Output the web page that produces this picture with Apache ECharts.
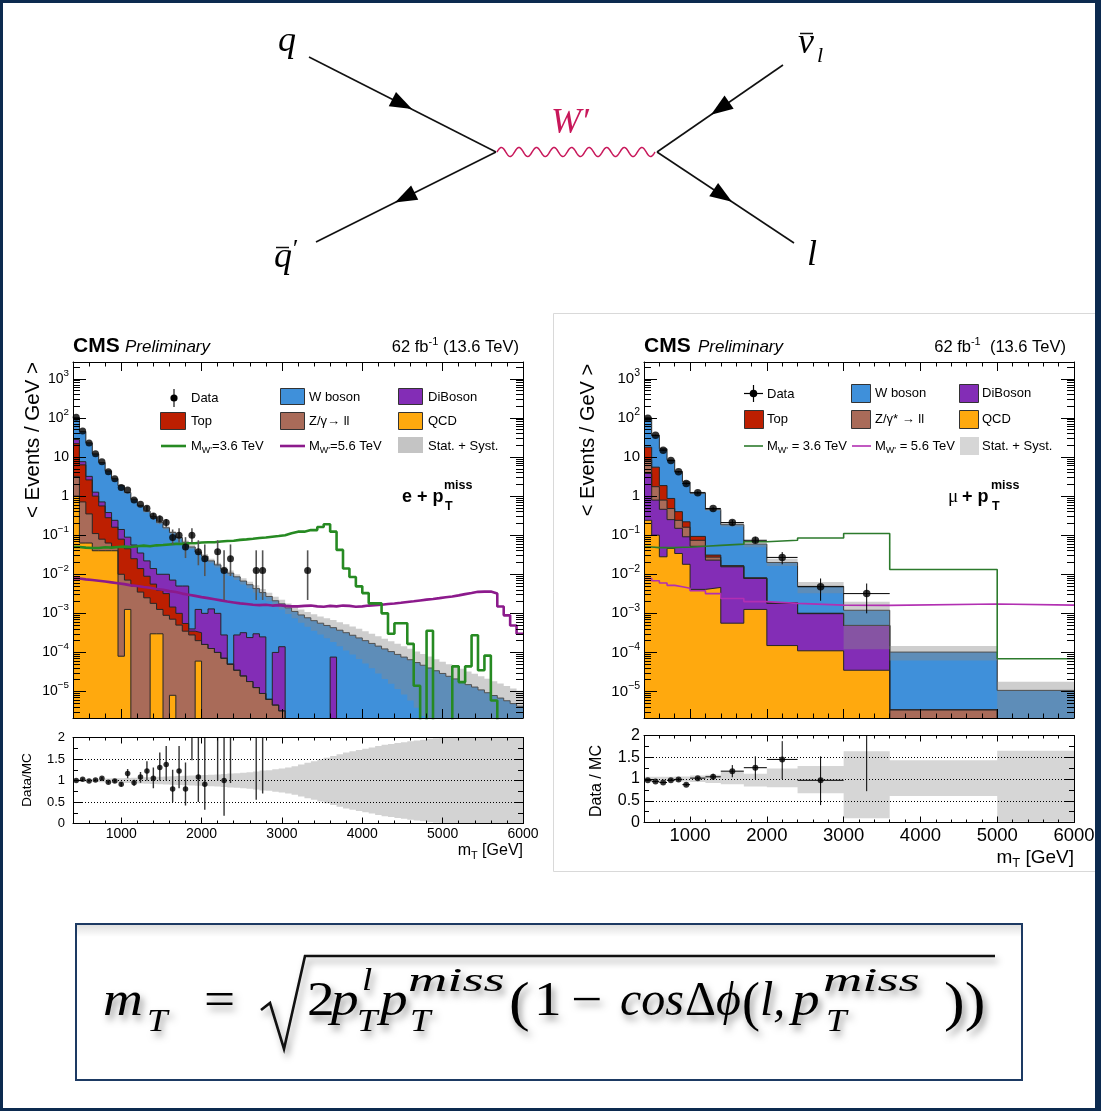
<!DOCTYPE html>
<html>
<head>
<meta charset="utf-8">
<title>W' search: transverse mass spectra</title>
<script src="https://cdn.jsdelivr.net/npm/echarts@6.0.0/dist/echarts.min.js"></script>
<style>
html, body { margin: 0; padding: 0; background: #ffffff; }
#chart { width: 1101px; height: 1111px; }
</style>
</head>
<body>
<div id="chart"></div>
<script>
// ---------- fonts & colours ----------
const SANS = '"Liberation Sans", Arial, Helvetica, sans-serif';
const SERIF = '"Liberation Serif", "DejaVu Serif", "Times New Roman", serif';
const NAVY = '#0c2a4f';
const COL_W = '#3f90da', COL_QCD = '#ffa90e', COL_TOP = '#bd1f01', COL_DIB = '#832db6', COL_Z = '#a96b59';

// ---------- axis ranges ----------
const X_MIN = 400, X_MAX = 6000;
const Y_MIN = 2.1e-6, Y_MAX = 2.7e3;
const EMPTY = 1e-12;   // empty bins sit far below the log range and are clipped away

const xMajor = [1000, 2000, 3000, 4000, 5000, 6000];
const xMinor = [];
for (let v = 600; v < 6000; v += 200) if (v % 1000 !== 0) xMinor.push(v);
const yDecades = [1e-5, 1e-4, 1e-3, 1e-2, 1e-1, 1, 10, 100, 1000];
const yMinor = [];
for (let e = -6; e <= 3; e++) for (let k = 2; k <= 9; k++) { const v = k * Math.pow(10, e); if (v > Y_MIN && v < Y_MAX) yMinor.push(v); }
const rMajor = [0, 0.5, 1, 1.5, 2];
const rMinor = [0.25, 0.75, 1.25, 1.75];

// ================= electron channel: 80 GeV bins from 400 GeV =================
const eBinLow = 400, eBinWidth = 80;
// cumulative stack tops (events / GeV), bottom to top: QCD, Z/gamma, Top, DiBoson, W boson
const eStackW = [102, 45, 23, 12, 7.2, 4.4, 2.8, 1.85, 1.23, 0.83,
  0.57, 0.41, 0.30, 0.21, 0.155, 0.117, 0.087, 0.066, 0.050, 0.037,
  0.029, 0.022, 0.0174, 0.0135, 0.0107, 8.6e-3, 6.7e-3, 5.4e-3, 4.3e-3, 3.4e-3,
  2.7e-3, 2.1e-3, 1.75e-3, 1.38e-3, 1.12e-3, 9.1e-4, 7.7e-4, 6.5e-4, 5.6e-4, 4.9e-4,
  4.3e-4, 3.7e-4, 3.2e-4, 2.75e-4, 2.35e-4, 2.0e-4, 1.7e-4, 1.45e-4, 1.23e-4, 1.05e-4,
  8.9e-5, 7.6e-5, 6.5e-5, 5.5e-5, 4.7e-5, 4.0e-5, 3.4e-5, 2.9e-5, 2.45e-5, 2.1e-5,
  1.8e-5, 1.5e-5, 1.3e-5, 1.1e-5, 9.3e-6, 7.9e-6, 6.8e-6, 5.8e-6, 4.9e-6, 4.2e-6];
const eStackDiBoson = [28, 7.6, 3.2, 1.26, 0.71, 0.38, 0.24, 0.14, 0.089, 0.056,
  0.035, 0.022, 0.014, 0.010, 0.010, 7.1e-3, 5.0e-3, 5.0e-3, 4.0e-4, 1.26e-3,
  1.0e-3, 1.3e-3, 1.0e-3, 2.8e-4, 5.0e-5, 2.8e-4, 3.2e-4, 2.4e-4, 3.0e-4, 2.5e-4,
  6.3e-6, 1.0e-4, 1.4e-4, 0, 0, 0, 0, 0, 0, 0,
  7.6e-5, 0, 0, 0, 0, 0, 0, 0, 0, 0,
  0, 0, 0, 0, 0, 0, 0, 0, 0, 0,
  0, 0, 0, 0, 0, 0, 0, 0, 0, 0];
const eStackTop = [22, 6.3, 2.6, 1.0, 0.56, 0.28, 0.16, 0.079, 0.045, 0.025,
  0.014, 8.9e-3, 5.6e-3, 3.9e-3, 3.2e-3, 1.45e-3, 1.0e-3, 5.5e-4, 3.5e-4, 3.2e-4,
  1.6e-4, 1.26e-4, 1.0e-4, 7.1e-5, 5.0e-5, 3.5e-5, 2.5e-5, 1.8e-5, 1.26e-5, 8.9e-6,
  6.3e-6, 4.5e-6, 3.2e-6, 0, 0, 0, 0, 0, 0, 0,
  0, 0, 0, 0, 0, 0, 0, 0, 0, 0,
  0, 0, 0, 0, 0, 0, 0, 0, 0, 0,
  0, 0, 0, 0, 0, 0, 0, 0, 0, 0];
const eStackZ = [3.2, 0.71, 0.35, 0.11, 0.079, 0.063, 0.050, 0.010, 7.1e-3, 5.0e-3,
  3.5e-3, 2.5e-3, 1.8e-3, 1.26e-3, 8.9e-4, 7.1e-4, 5.0e-4, 3.5e-4, 2.8e-4, 2.0e-4,
  1.6e-4, 1.26e-4, 1.0e-4, 7.1e-5, 5.0e-5, 3.5e-5, 2.5e-5, 1.8e-5, 1.26e-5, 8.9e-6,
  6.3e-6, 4.5e-6, 3.2e-6, 0, 0, 0, 0, 0, 0, 0,
  0, 0, 0, 0, 0, 0, 0, 0, 0, 0,
  0, 0, 0, 0, 0, 0, 0, 0, 0, 0,
  0, 0, 0, 0, 0, 0, 0, 0, 0, 0];
const eStackQCD = [1.0, 0.063, 0.063, 0.04, 0.04, 0.04, 0.04, 8e-5, 1.26e-3, 0,
  0, 0, 3e-4, 3e-4, 0, 8e-6, 0, 0, 0, 6e-5,
  0, 0, 0, 0, 0, 0, 0, 0, 0, 0,
  0, 0, 0, 0, 0, 0, 0, 0, 0, 0,
  0, 0, 0, 0, 0, 0, 0, 0, 0, 0,
  0, 0, 0, 0, 0, 0, 0, 0, 0, 0,
  0, 0, 0, 0, 0, 0, 0, 0, 0, 0];
// relative stat. + syst. uncertainty of the background
const eBandErr = [0.03, 0.03, 0.03, 0.035, 0.04, 0.045, 0.05, 0.055, 0.06, 0.065,
  0.07, 0.075, 0.08, 0.09, 0.095, 0.10, 0.105, 0.11, 0.115, 0.12,
  0.13, 0.135, 0.14, 0.15, 0.16, 0.17, 0.18, 0.19, 0.21, 0.23,
  0.24, 0.26, 0.28, 0.30, 0.33, 0.37, 0.41, 0.45, 0.49, 0.53,
  0.57, 0.61, 0.65, 0.68, 0.71, 0.74, 0.77, 0.80, 0.83, 0.85,
  0.87, 0.89, 0.91, 0.93, 0.95, 0.97, 0.98, 1.0, 1.04, 1.08,
  1.12, 1.16, 1.2, 1.24, 1.28, 1.32, 1.36, 1.4, 1.44, 1.48];
// signal hypotheses
const eSig36 = [0.050, 0.048, 0.047, 0.047, 0.049, 0.048, 0.050, 0.051, 0.050, 0.052,
  0.054, 0.052, 0.055, 0.056, 0.058, 0.060, 0.060, 0.062, 0.062, 0.065,
  0.066, 0.066, 0.069, 0.071, 0.072, 0.076, 0.078, 0.081, 0.085, 0.087,
  0.091, 0.095, 0.100, 0.112, 0.123, 0.123, 0.135, 0.135, 0.162, 0.190,
  0.123, 0.042, 0.014, 8.5e-3, 4.9e-3, 3.3e-3, 1.8e-3, 1.8e-3, 1.0e-3, 3.0e-4,
  5.6e-4, 5.6e-4, 1.66e-4, 1.4e-5, 0, 3.6e-4, 0, 0, 0, 4.4e-5,
  1.74e-5, 4.4e-5, 2.75e-4, 3.5e-5, 8.3e-5, 5.9e-6, 0, 0, 0, 0];
const eSig56 = [7.8e-3, 7.4e-3, 7.1e-3, 6.8e-3, 6.5e-3, 6.2e-3, 5.9e-3, 5.6e-3, 5.2e-3, 5.0e-3,
  4.7e-3, 4.5e-3, 4.2e-3, 4.0e-3, 3.7e-3, 3.5e-3, 3.2e-3, 3.0e-3, 2.8e-3, 2.6e-3,
  2.45e-3, 2.3e-3, 2.15e-3, 2.0e-3, 1.9e-3, 1.8e-3, 1.74e-3, 1.66e-3, 1.62e-3, 1.66e-3,
  1.58e-3, 1.62e-3, 1.55e-3, 1.51e-3, 1.51e-3, 1.55e-3, 1.58e-3, 1.51e-3, 1.48e-3, 1.55e-3,
  1.51e-3, 1.58e-3, 1.55e-3, 1.48e-3, 1.51e-3, 1.58e-3, 1.62e-3, 1.66e-3, 1.74e-3, 1.78e-3,
  1.86e-3, 1.95e-3, 2.04e-3, 2.14e-3, 2.24e-3, 2.34e-3, 2.45e-3, 2.57e-3, 2.69e-3, 2.88e-3,
  3.1e-3, 3.3e-3, 3.55e-3, 3.6e-3, 3.6e-3, 3.2e-3, 1.5e-3, 8.9e-4, 4.9e-4, 3.0e-4];
// observed data (events / GeV) with vertical uncertainty
const eData = [104, 46, 23, 12.2, 7.6, 4.2, 2.8, 1.67, 1.43, 0.79, 0.62, 0.49, 0.31, 0.26, 0.21,
  0.0875, 0.1, 0.05, 0.1, 0.0375, 0.025, null, 0.0375, 0.0125, 0.025, null, null, null, 0.0125, 0.0125,
  null, null, null, null, null, null, 0.0125];
const eDataLo = [null, null, null, null, null, null, null, null, null, null, null, 0.41, 0.25, 0.20, 0.16,
  0.057, 0.065, 0.026, 0.065, 0.017, 0.009, null, 0.017, 0.0022, 0.009, null, null, null, 0.0022, 0.0022,
  null, null, null, null, null, null, 0.0022];
const eDataHi = [null, null, null, null, null, null, null, null, null, null, null, 0.57, 0.37, 0.32, 0.26,
  0.14, 0.15, 0.089, 0.15, 0.074, 0.058, null, 0.074, 0.041, 0.058, null, null, null, 0.041, 0.041,
  null, null, null, null, null, null, 0.041];
// data / MC
const eRatio = [1.0, 1.03, 0.99, 1.01, 1.05, 0.96, 0.99, 0.91, 1.16, 0.95, 1.08, 1.22, 1.05, 1.30, 1.37,
  0.80, 1.22, 0.80, 2.3, 1.08, 0.91, null, 2.2, 1.0, 2.3, null, null, null, 2.9, 3.7];
const eRatioLo = [0.98, 1.01, 0.97, 0.98, 1.02, 0.93, 0.95, 0.86, 1.05, 0.88, 0.95, 1.0, 0.82, 1.0, 1.0,
  0.5, 0.82, 0.42, 1.47, 0.5, 0.32, null, 1.0, 0.18, 0.94, null, null, null, 0.55, 0.7];
const eRatioHi = [1.02, 1.05, 1.01, 1.04, 1.08, 0.99, 1.03, 0.96, 1.27, 1.02, 1.20, 1.45, 1.30, 1.65, 1.80,
  1.25, 1.80, 1.42, 3.3, 2.1, 2.0, null, 4.0, 2.2, 5.0, null, null, null, 9.0, 12.0];

// ================= muon channel: variable bins =================
const mEdges = [400, 500, 600, 700, 800, 900, 1000, 1200, 1400, 1700, 2000, 2400, 3000, 3600, 5000, 6000];
// cumulative stack tops, bottom to top: QCD, DiBoson, Z/gamma*, Top, W boson
const mStackW = [100, 35.5, 16.2, 8.3, 4.2, 2.3, 1.2, 0.457, 0.186, 0.059, 0.020, 4.9e-3, 1.2e-3, 1.02e-4, 1.07e-5];
const mStackTop = [17.8, 5.5, 1.86, 0.87, 0.40, 0.22, 0.093, 0.031, 0.0166, 8.1e-3, 1.86e-3, 1.0e-3, 4.9e-4, 3.4e-6, 0];
const mStackZ = [8.3, 1.74, 0.79, 0.48, 0.24, 0.16, 0.074, 0.0275, 0.0162, 7.9e-3, 1.82e-3, 1.0e-3, 4.9e-4, 3.4e-6, 0];
const mStackDiBoson = [3.8, 0.79, 0.46, 0.25, 0.15, 0.091, 0.052, 0.023, 0.0155, 7.8e-3, 1.8e-3, 9.8e-4, 4.9e-4, 0, 0];
const mStackQCD = [0.24, 0.10, 0.028, 0.046, 0.034, 0.018, 4.1e-3, 4.6e-3, 5.6e-4, 1.26e-3, 1.5e-4, 1.1e-4, 3.5e-5, 0, 0];
const mBandUp = [1.05, 1.05, 1.05, 1.05, 1.06, 1.06, 1.08, 1.10, 1.17, 1.12, 1.24, 1.30, 1.64, 1.43, 1.65];
const mBandLo = [0.95, 0.95, 0.95, 0.95, 0.94, 0.94, 0.93, 0.91, 0.88, 0.83, 0.81, 0.67, 0.10, 0.61, 0.02];
const mSig36 = [0.050, 0.048, 0.048, 0.048, 0.049, 0.049, 0.052, 0.055, 0.059, 0.068, 0.074, 0.085, 0.11, 0.0132, 6.9e-5];
const mSig56 = [7.8e-3, 6.8e-3, 6.0e-3, 5.2e-3, 4.8e-3, 4.4e-3, 3.8e-3, 3.2e-3, 2.4e-3, 2.0e-3, 1.8e-3, 1.62e-3, 1.6e-3, 1.74e-3, 1.62e-3];
const mData = [98, 36, 15, 8.1, 4.2, 2.1, 1.22, 0.48, 0.21, 0.074, 0.027, 4.8e-3, 3.2e-3];
const mDataLo = [95, 35, 14.5, 7.8, 4.0, 1.95, 1.12, 0.43, 0.18, 0.062, 0.018, 2.1e-3, 1.0e-3];
const mDataHi = [101, 37, 15.5, 8.4, 4.4, 2.25, 1.32, 0.53, 0.245, 0.091, 0.037, 7.8e-3, 5.8e-3];
const mRatio = [0.97, 0.94, 0.92, 0.97, 0.99, 0.87, 1.02, 1.05, 1.18, 1.26, 1.45, 0.97, 2.7];
const mRatioLo = [0.95, 0.92, 0.90, 0.95, 0.96, 0.84, 0.99, 0.98, 1.04, 1.0, 1.0, 0.4, 0.72];
const mRatioHi = [0.99, 0.96, 0.94, 0.99, 1.02, 0.90, 1.05, 1.12, 1.32, 1.52, 1.87, 1.52, 4.5];

// ---------- derived tables ----------
const eEdges = [];
for (let i = 0; i <= eStackW.length; i++) eEdges.push(eBinLow + i * eBinWidth);
const eBandHi = eStackW.map((v, i) => v * (1 + eBandErr[i]));
const eBandLo = eStackW.map((v, i) => v * (1 - eBandErr[i]));
const eRBandHi = eBandErr.map(e => 1 + e);
const eRBandLo = eBandErr.map(e => 1 - e);
const mBandHiAbs = mStackW.map((v, i) => v * mBandUp[i]);
const mBandLoAbs = mStackW.map((v, i) => v * mBandLo[i]);

const eDataPts = [], eDataBars = [], eRatioPts = [], eRatioBars = [];
eData.forEach((v, i) => {
  if (v == null) return;
  const xc = eEdges[i] + eBinWidth / 2;
  eDataPts.push([xc, v]);
  if (eDataLo[i] != null) eDataBars.push([xc, eDataLo[i], eDataHi[i]]);
});
eRatio.forEach((r, i) => {
  if (r == null) return;
  const xc = eEdges[i] + eBinWidth / 2;
  eRatioPts.push([xc, r]);
  eRatioBars.push([xc, eRatioLo[i], eRatioHi[i]]);
});
const mDataPts = [], mDataBars = [], mDataH = [], mRatioPts = [], mRatioBars = [], mRatioH = [];
mData.forEach((v, i) => {
  const x0 = mEdges[i], x1 = mEdges[i + 1], xc = (x0 + x1) / 2;
  mDataPts.push([xc, v]);
  mDataBars.push([xc, mDataLo[i], mDataHi[i]]);
  mDataH.push([x0, x1, v]);
  mRatioPts.push([xc, mRatio[i]]);
  mRatioBars.push([xc, mRatioLo[i], mRatioHi[i]]);
  mRatioH.push([x0, x1, mRatio[i]]);
});

// ---------- series builders ----------
function stepData(edges, vals) {
  const pts = [];
  for (let i = 0; i < vals.length; i++) pts.push([edges[i], vals[i] > 0 ? vals[i] : EMPTY]);
  const last = vals[vals.length - 1];
  pts.push([edges[vals.length], last > 0 ? last : EMPTY]);
  return pts;
}
function stackSeries(ax, edges, vals, color) {
  return {
    type: 'line', xAxisIndex: ax, yAxisIndex: ax, step: 'end', symbol: 'none', showSymbol: false,
    data: stepData(edges, vals), silent: true, z: 2, clip: true,
    lineStyle: { color: '#262626', width: 1 },
    areaStyle: { color: color, opacity: 1, origin: 'start' }
  };
}
function histLine(ax, edges, vals, color, width) {
  return {
    type: 'line', xAxisIndex: ax, yAxisIndex: ax, step: 'end', symbol: 'none', showSymbol: false,
    data: stepData(edges, vals), silent: true, z: 4, clip: true,
    lineStyle: { color: color, width: width }
  };
}
function bandPolygon(ax, edges, lo, hi, fill, yLo, yHi, z) {
  return {
    type: 'custom', xAxisIndex: ax, yAxisIndex: ax, silent: true, z: z, clip: true,
    data: [[edges[0], yLo]],
    renderItem: function (params, api) {
      const c = v => Math.min(Math.max(v, yLo), yHi);
      const pts = [];
      for (let i = 0; i < hi.length; i++) {
        pts.push(api.coord([edges[i], c(hi[i])]));
        pts.push(api.coord([edges[i + 1], c(hi[i])]));
      }
      for (let i = lo.length - 1; i >= 0; i--) {
        pts.push(api.coord([edges[i + 1], c(lo[i])]));
        pts.push(api.coord([edges[i], c(lo[i])]));
      }
      return { type: 'polygon', shape: { points: pts }, style: { fill: fill } };
    }
  };
}
function vBars(ax, items, color, width, yLo, yHi) {
  return {
    type: 'custom', xAxisIndex: ax, yAxisIndex: ax, silent: true, z: 5, clip: true,
    data: items, encode: { x: 0, y: [1, 2] },
    renderItem: function (params, api) {
      const c = v => Math.min(Math.max(v, yLo), yHi);
      const x = api.value(0);
      const a = api.coord([x, c(api.value(1))]);
      const b = api.coord([x, c(api.value(2))]);
      return { type: 'line', shape: { x1: a[0], y1: a[1], x2: b[0], y2: b[1] }, style: { stroke: color, lineWidth: width } };
    }
  };
}
function hBars(ax, items, color, width, yLo, yHi) {
  return {
    type: 'custom', xAxisIndex: ax, yAxisIndex: ax, silent: true, z: 5, clip: true,
    data: items, encode: { x: [0, 1], y: 2 },
    renderItem: function (params, api) {
      const y = api.value(2);
      if (y < yLo || y > yHi) return null;
      const a = api.coord([api.value(0), y]);
      const b = api.coord([api.value(1), y]);
      return { type: 'line', shape: { x1: a[0], y1: a[1], x2: b[0], y2: b[1] }, style: { stroke: color, lineWidth: width } };
    }
  };
}
function points(ax, pts, size) {
  return {
    type: 'scatter', xAxisIndex: ax, yAxisIndex: ax, data: pts, symbol: 'circle', symbolSize: size,
    itemStyle: { color: '#000' }, silent: true, z: 6, clip: true
  };
}
function guideLines(ax) {
  return {
    type: 'line', xAxisIndex: ax, yAxisIndex: ax, data: [], silent: true, z: 3,
    markLine: {
      silent: true, symbol: 'none', label: { show: false }, animation: false,
      lineStyle: { color: '#000', width: 1, type: [1, 2] },
      data: [{ yAxis: 0.5 }, { yAxis: 1 }, { yAxis: 1.5 }]
    }
  };
}

// ---------- axes ----------
const blackLine = { show: true, onZero: false, lineStyle: { color: '#000', width: 1 } };
function xAxes(grid, isRatio, labelSize) {
  const L = isRatio ? 6 : 9;
  const base = { type: 'value', gridIndex: grid, min: X_MIN, max: X_MAX, splitLine: { show: false }, z: 10 };
  const major = { show: true, inside: true, length: L, customValues: xMajor, lineStyle: { color: '#000' } };
  const minor = { show: true, inside: true, length: L / 2, customValues: xMinor, lineStyle: { color: '#000' } };
  return [
    Object.assign({}, base, { position: 'bottom', axisLine: blackLine, axisTick: major,
      axisLabel: { show: isRatio, customValues: xMajor, formatter: v => String(v), fontSize: labelSize, fontFamily: SANS, color: '#000', margin: 4 } }),
    Object.assign({}, base, { position: 'bottom', axisLine: { show: false, onZero: false }, axisTick: minor, axisLabel: { show: false } }),
    Object.assign({}, base, { position: 'top', axisLine: blackLine, axisTick: major, axisLabel: { show: false } }),
    Object.assign({}, base, { position: 'top', axisLine: { show: false, onZero: false }, axisTick: minor, axisLabel: { show: false } })
  ];
}
function powLabel(v) {
  const e = Math.round(Math.log10(v));
  if (e === 0) return '{b|1}';
  if (e === 1) return '{b|10}';
  return '{b|10}{s|' + (e < 0 ? '\u2212' + (-e) : String(e)) + '}';
}
function logAxes(grid, labelSize) {
  const base = { type: 'log', logBase: 10, gridIndex: grid, min: Y_MIN, max: Y_MAX, splitLine: { show: false }, z: 10 };
  const major = { show: true, inside: true, length: 13, customValues: yDecades, lineStyle: { color: '#000' } };
  const minor = { show: true, inside: true, length: 7, customValues: yMinor, lineStyle: { color: '#000' } };
  return [
    Object.assign({}, base, { position: 'left', axisLine: blackLine, axisTick: major,
      axisLabel: { show: true, customValues: yDecades, formatter: powLabel, margin: 4,
        rich: { b: { fontSize: labelSize, fontFamily: SANS, color: '#000', lineHeight: 22 },
                s: { fontSize: labelSize * 0.7, fontFamily: SANS, color: '#000', verticalAlign: 'top', lineHeight: 13 } } } }),
    Object.assign({}, base, { position: 'left', axisLine: { show: false, onZero: false }, axisTick: minor, axisLabel: { show: false } }),
    Object.assign({}, base, { position: 'right', axisLine: blackLine, axisTick: major, axisLabel: { show: false } }),
    Object.assign({}, base, { position: 'right', axisLine: { show: false, onZero: false }, axisTick: minor, axisLabel: { show: false } })
  ];
}
function ratioAxes(grid, labelSize, margin) {
  const base = { type: 'value', gridIndex: grid, min: 0, max: 2, splitLine: { show: false }, z: 10 };
  const major = { show: true, inside: true, length: 9, customValues: rMajor, lineStyle: { color: '#000' } };
  const minor = { show: true, inside: true, length: 5, customValues: rMinor, lineStyle: { color: '#000' } };
  return [
    Object.assign({}, base, { position: 'left', axisLine: blackLine, axisTick: major,
      axisLabel: { show: true, customValues: rMajor, fontSize: labelSize, fontFamily: SANS, color: '#000', margin: margin } }),
    Object.assign({}, base, { position: 'left', axisLine: { show: false, onZero: false }, axisTick: minor, axisLabel: { show: false } }),
    Object.assign({}, base, { position: 'right', axisLine: blackLine, axisTick: major, axisLabel: { show: false } }),
    Object.assign({}, base, { position: 'right', axisLine: { show: false, onZero: false }, axisTick: minor, axisLabel: { show: false } })
  ];
}

// axis index of the first axis of each panel
const AX_E = 0, AX_ER = 4, AX_M = 8, AX_MR = 12;

const series = [
  // electron channel, main panel
  stackSeries(AX_E, eEdges, eStackW, COL_W),
  stackSeries(AX_E, eEdges, eStackDiBoson, COL_DIB),
  stackSeries(AX_E, eEdges, eStackTop, COL_TOP),
  stackSeries(AX_E, eEdges, eStackZ, COL_Z),
  stackSeries(AX_E, eEdges, eStackQCD, COL_QCD),
  bandPolygon(AX_E, eEdges, eBandLo, eBandHi, 'rgba(138,138,138,0.42)', Y_MIN, Y_MAX, 3),
  histLine(AX_E, eEdges, eSig56, '#8c1a8c', 2.6),
  histLine(AX_E, eEdges, eSig36, '#268a22', 2.6),
  vBars(AX_E, eDataBars, '#555', 1.6, Y_MIN, Y_MAX),
  points(AX_E, eDataPts, 7),
  // electron channel, ratio panel
  bandPolygon(AX_ER, eEdges, eRBandLo, eRBandHi, '#d3d3d3', 0, 2, 1),
  guideLines(AX_ER),
  vBars(AX_ER, eRatioBars, '#333', 1.4, 0, 2),
  points(AX_ER, eRatioPts, 5.5),
  // muon channel, main panel
  stackSeries(AX_M, mEdges, mStackW, COL_W),
  stackSeries(AX_M, mEdges, mStackTop, COL_TOP),
  stackSeries(AX_M, mEdges, mStackZ, COL_Z),
  stackSeries(AX_M, mEdges, mStackDiBoson, COL_DIB),
  stackSeries(AX_M, mEdges, mStackQCD, COL_QCD),
  bandPolygon(AX_M, mEdges, mBandLoAbs, mBandHiAbs, 'rgba(138,138,138,0.42)', Y_MIN, Y_MAX, 3),
  histLine(AX_M, mEdges, mSig56, '#b22fb2', 1.6),
  histLine(AX_M, mEdges, mSig36, '#2c7a2c', 1.6),
  vBars(AX_M, mDataBars, '#000', 1, Y_MIN, Y_MAX),
  hBars(AX_M, mDataH, '#000', 1, Y_MIN, Y_MAX),
  points(AX_M, mDataPts, 7.5),
  // muon channel, ratio panel
  bandPolygon(AX_MR, mEdges, mBandLo, mBandUp, '#d6d6d6', 0, 2, 1),
  guideLines(AX_MR),
  vBars(AX_MR, mRatioBars, '#000', 1, 0, 2),
  hBars(AX_MR, mRatioH, '#000', 1, 0, 2),
  points(AX_MR, mRatioPts, 6)
];

// ---------- drawn annotations ----------
const els = [];
function txt(x, y, text, size, o) {
  o = o || {};
  const style = {
    text: text, fontSize: size, fontFamily: o.family || SANS, fontWeight: o.weight || 'normal',
    fontStyle: o.style || 'normal', fill: o.color || '#000', align: o.align || 'left', verticalAlign: o.valign || 'middle'
  };
  if (o.rich) style.rich = o.rich;
  if (o.shadow) {
    style.textShadowColor = 'rgba(0,0,0,0.42)'; style.textShadowBlur = 7;
    style.textShadowOffsetX = 3; style.textShadowOffsetY = 5;
  }
  return { type: 'text', x: x, y: y, rotation: o.rotation || 0, scaleX: o.scaleX || 1, silent: true, z: 100, style: style };
}
function box(x, y, w, h, fill, stroke) {
  return { type: 'rect', shape: { x: x, y: y, width: w, height: h }, silent: true, z: 100,
    style: { fill: fill, stroke: stroke || null, lineWidth: 1 } };
}
function seg(x1, y1, x2, y2, color, w) {
  return { type: 'line', shape: { x1: x1, y1: y1, x2: x2, y2: y2 }, silent: true, z: 100,
    style: { stroke: color, lineWidth: w } };
}

// outer frame and the muon-panel border
els.push(box(553.5, 313.5, 545, 558, null, '#d9d9d9'));
els.push(box(0, 0, 1101, 3, NAVY), box(0, 0, 3, 1111, NAVY), box(1095, 0, 6, 1111, NAVY), box(0, 1108, 1101, 3, NAVY));

// Feynman diagram: q qbar' -> W' -> l nu
els.push(seg(309, 57, 496, 152, '#111', 1.6), seg(496, 152, 316, 242, '#111', 1.6),
         seg(657, 152, 783, 65, '#111', 1.6), seg(657, 152, 794, 243, '#111', 1.6));
function arrowHead(tx, ty, dx, dy) {
  const L = Math.hypot(dx, dy), ux = dx / L, uy = dy / L, len = 22, hw = 8;
  const bx = tx - ux * len, by = ty - uy * len;
  return { type: 'polygon', silent: true, z: 101,
    shape: { points: [[tx, ty], [bx - uy * hw, by + ux * hw], [bx + uy * hw, by - ux * hw]] }, style: { fill: '#000' } };
}
els.push(arrowHead(412, 109, 187, 95), arrowHead(395, 202.5, -180, 90),
         arrowHead(711, 114.7, -126, 87), arrowHead(732, 201.8, 137, 91));
const wiggle = [];
for (let x = 497; x <= 655; x += 0.5) wiggle.push([x, 152 - 4.5 * Math.sin((x - 497) / 158 * 9 * 2 * Math.PI)]);
els.push({ type: 'polyline', silent: true, z: 100, shape: { points: wiggle }, style: { stroke: '#c8175a', lineWidth: 1.5, fill: null } });
const fey = { family: SERIF, style: 'italic', align: 'center' };
els.push(txt(287, 42, 'q', 36, fey));
els.push(txt(283, 258, 'q', 36, fey), seg(276, 247.5, 289, 247.5, '#111', 1.5), txt(294, 250, '\u2032', 26, fey));
els.push(txt(806, 44, '\u03bd', 36, fey), seg(800, 33.5, 813, 33.5, '#111', 1.5), txt(820, 56, 'l', 22, fey));
els.push(txt(812, 256, 'l', 36, fey));
els.push(txt(570, 124, 'W\u2032', 36, Object.assign({}, fey, { color: '#c8175a' })));

// panel headers
const lumiRich = { a: { fontSize: 16.5, fontFamily: SANS, lineHeight: 22 }, b: { fontSize: 11, fontFamily: SANS, verticalAlign: 'top', lineHeight: 13 } };
els.push(txt(73, 346, 'CMS', 21, { weight: 'bold' }), txt(125, 347, 'Preliminary', 17, { style: 'italic' }),
         txt(519, 347, '{a|62 fb}{b|-1}{a| (13.6 TeV)}', 16.5, { align: 'right', rich: lumiRich }));
els.push(txt(644, 346, 'CMS', 21, { weight: 'bold' }), txt(698, 347, 'Preliminary', 17, { style: 'italic' }),
         txt(1066, 347, '{a|62 fb}{b|-1}{a|  (13.6 TeV)}', 16.5, { align: 'right', rich: lumiRich }));

// axis titles
els.push(txt(33, 440, '< Events / GeV >', 20.5, { rotation: Math.PI / 2, align: 'center' }));
els.push(txt(588, 440, '< Events / GeV >', 20, { rotation: Math.PI / 2, align: 'center' }));
els.push(txt(27, 780, 'Data/MC', 13.5, { rotation: Math.PI / 2, align: 'center' }));
els.push(txt(597, 781, 'Data / MC', 16, { rotation: Math.PI / 2, align: 'center' }));
const mtRich = s => ({ a: { fontSize: s, fontFamily: SANS, lineHeight: s + 4 }, b: { fontSize: s * 0.68, fontFamily: SANS, verticalAlign: 'bottom', lineHeight: s * 0.5 } });
els.push(txt(523, 851, '{a|m}{b|T}{a| [GeV]}', 16, { align: 'right', rich: mtRich(16) }));
els.push(txt(1074, 858, '{a|m}{b|T}{a| [GeV]}', 19, { align: 'right', rich: mtRich(19) }));

// channel labels
els.push(txt(402, 497, 'e + p', 18, { weight: 'bold' }), txt(444, 486, 'miss', 12.5, { weight: 'bold' }), txt(445, 507, 'T', 12.5, { weight: 'bold' }));
els.push(txt(948, 497, '\u03bc', 19, { family: SERIF }), txt(962, 497, '+ p', 18, { weight: 'bold' }),
         txt(991, 486, 'miss', 12.5, { weight: 'bold' }), txt(992, 507, 'T', 12.5, { weight: 'bold' }));

// legends
const legRich = { a: { fontSize: 13, fontFamily: SANS, lineHeight: 18 }, b: { fontSize: 9, fontFamily: SANS, verticalAlign: 'bottom', lineHeight: 10 } };
els.push(seg(174, 389, 174, 407, '#444', 1.5), { type: 'circle', shape: { cx: 174, cy: 398, r: 3.6 }, style: { fill: '#000' }, silent: true, z: 101 });
els.push(txt(191, 398, 'Data', 13), box(160.5, 412.5, 25, 17, COL_TOP, '#333'), txt(191, 421, 'Top', 13));
els.push(seg(161, 446, 186, 446, '#268a22', 2.6), txt(191, 446, '{a|M}{b|W\'}{a|=3.6 TeV}', 13, { rich: legRich }));
els.push(box(280.5, 388.5, 24, 16, COL_W, '#333'), txt(309, 397, 'W boson', 13));
els.push(box(280.5, 412.5, 24, 17, COL_Z, '#333'), txt(309, 421, 'Z/\u03b3\u2192 ll', 13));
els.push(seg(280, 446, 305, 446, '#8c1a8c', 2.6), txt(309, 446, '{a|M}{b|W\'}{a|=5.6 TeV}', 13, { rich: legRich }));
els.push(box(398.5, 388.5, 24, 16, COL_DIB, '#333'), txt(428, 397, 'DiBoson', 13));
els.push(box(398.5, 412.5, 24, 17, COL_QCD, '#333'), txt(428, 421, 'QCD', 13));
els.push(box(398, 437, 25, 16, '#c4c4c4'), txt(428, 446, 'Stat. + Syst.', 13));

els.push(seg(744, 393.5, 763, 393.5, '#000', 1.2), seg(753.5, 385, 753.5, 402, '#000', 1.2),
         { type: 'circle', shape: { cx: 753.5, cy: 393.5, r: 3.8 }, style: { fill: '#000' }, silent: true, z: 101 });
els.push(txt(767, 394, 'Data', 13), box(744.5, 410.5, 19, 18, COL_TOP, '#333'), txt(767, 419, 'Top', 13));
els.push(seg(744, 446, 763, 446, '#2c7a2c', 1.6), txt(767, 446, '{a|M}{b|W\'}{a| = 3.6 TeV}', 13, { rich: legRich }));
els.push(box(851.5, 384.5, 19, 18, COL_W, '#333'), txt(875, 393, 'W boson', 13));
els.push(box(851.5, 410.5, 19, 18, COL_Z, '#333'), txt(875, 419, 'Z/\u03b3* \u2192 ll', 13));
els.push(seg(852, 446, 871, 446, '#b22fb2', 1.6), txt(875, 446, '{a|M}{b|W\'}{a| = 5.6 TeV}', 13, { rich: legRich }));
els.push(box(959.5, 384.5, 19, 18, COL_DIB, '#333'), txt(982, 393, 'DiBoson', 13));
els.push(box(959.5, 410.5, 19, 18, COL_QCD, '#333'), txt(982, 419, 'QCD', 13));
els.push(box(960, 437, 19, 18, '#d6d6d6'), txt(982, 446, 'Stat. + Syst.', 13));

// transverse-mass definition
els.push(box(76, 924, 946, 156, '#fff', '#1d3a63'));
els[els.length - 1].style.lineWidth = 2;
els.push({ type: 'rect', shape: { x: 77, y: 925, width: 944, height: 12 }, silent: true, z: 100,
  style: { fill: { type: 'linear', x: 0, y: 0, x2: 0, y2: 1, colorStops: [{ offset: 0, color: 'rgba(0,0,0,0.12)' }, { offset: 1, color: 'rgba(0,0,0,0)' }] } } });
const fi = { family: SERIF, style: 'italic', shadow: true, scaleX: 1.15 };
const fr = { family: SERIF, shadow: true, scaleX: 1.15 };
const fi1 = { family: SERIF, style: 'italic', shadow: true, scaleX: 1.0 };
const fr1 = { family: SERIF, shadow: true, scaleX: 1.0 };
const fsup = { family: SERIF, style: 'italic', shadow: true, scaleX: 1.6 };
const BL = 1002, SUP = 982, SUB = 1023;
els.push(txt(103, BL, 'm', 48, fi), txt(147, SUB, 'T', 32, fi), txt(204, BL, '=', 48, fr));
els.push({ type: 'polyline', silent: true, z: 100, shape: { points: [[261, 1010], [270, 1003], [284, 1049], [305, 956], [995, 956]] },
  style: { stroke: '#111', lineWidth: 2.6, fill: null, lineJoin: 'miter', shadowColor: 'rgba(0,0,0,0.4)', shadowBlur: 7, shadowOffsetX: 3, shadowOffsetY: 5 } });
els.push(txt(307, BL, '2', 48, fr), txt(331, BL, 'p', 48, fi), txt(362, SUP, 'l', 32, fi), txt(357, SUB, 'T', 32, fi));
els.push(txt(380, BL, 'p', 48, fi), txt(408, SUP, 'miss', 34, fsup), txt(410, SUB, 'T', 32, fi));
els.push(txt(509, 1006, '(', 54, fr), txt(534, BL, '1', 48, fr), txt(571, BL, '\u2212', 48, fr));
els.push(txt(620, BL, 'cos', 48, fi1), txt(685, BL, '\u0394', 48, fr1), txt(716, BL, '\u03d5', 48, fi1), txt(742, 1006, '(', 54, fr1));
els.push(txt(760, BL, 'l,', 48, fi1), txt(792, BL, 'p', 48, fi), txt(823, SUP, 'miss', 34, fsup), txt(826, SUB, 'T', 32, fi));
els.push(txt(944, 1006, '))', 54, fr));

const option = {
  animation: false,
  backgroundColor: '#ffffff',
  grid: [
    { left: 73, top: 362, width: 450, height: 356 },
    { left: 73, top: 737.5, width: 450, height: 86 },
    { left: 644, top: 362, width: 430, height: 356 },
    { left: 644, top: 735.5, width: 430, height: 87 }
  ],
  xAxis: [].concat(xAxes(0, false, 14), xAxes(1, true, 14), xAxes(2, false, 18.5), xAxes(3, true, 18.5)),
  yAxis: [].concat(logAxes(0, 14), ratioAxes(1, 13, 8), logAxes(2, 15), ratioAxes(3, 16, 4)),
  series: series,
  graphic: { elements: els }
};

const chart = echarts.init(document.getElementById('chart'), null, { renderer: 'canvas' });
chart.setOption(option);
</script>
</body>
</html>
